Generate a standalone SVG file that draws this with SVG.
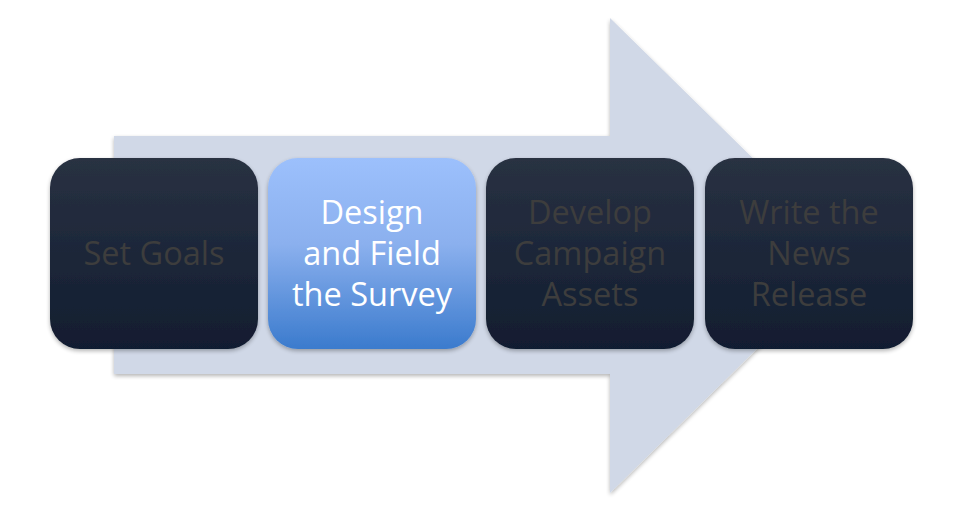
<svg xmlns="http://www.w3.org/2000/svg" width="960" height="511" viewBox="0 0 960 511">
<defs>
<linearGradient id="dark" x1="0" y1="0" x2="0" y2="1">
<stop offset="0" stop-color="#293142"/>
<stop offset="1" stop-color="#111d30"/>
</linearGradient>
<linearGradient id="blue" x1="0" y1="0" x2="0" y2="1">
<stop offset="0" stop-color="#9cc0fc"/>
<stop offset="0.45" stop-color="#8bb0ee"/>
<stop offset="1" stop-color="#3b7bcd"/>
</linearGradient>
<filter id="sh" x="-10%" y="-10%" width="120%" height="125%">
<feGaussianBlur in="SourceAlpha" stdDeviation="2"/>
<feOffset dx="0" dy="2" result="b"/>
<feComponentTransfer><feFuncA type="linear" slope="0.3"/></feComponentTransfer>
<feMerge><feMergeNode/><feMergeNode in="SourceGraphic"/></feMerge>
</filter>
</defs>
<style>
.box{stroke:none;filter:url(#sh)}
.t{font-family:"Open Sans","Noto Sans",sans-serif;font-size:32.5px;text-anchor:middle}
.dk{fill:#3d3d3d}
.wt{fill:#ffffff}
</style>
<rect width="960" height="511" fill="#ffffff"/>
<g id="arrow">
<path d="M114,136 H610 V18 L852,255.5 L610,493 V374 H114 Z" fill="#d0d8e7" filter="url(#sh)"/>
</g>
<g id="connectors"></g>
<g id="n1">
<rect class="box" x="50" y="158" width="208" height="191" rx="30" fill="url(#dark)"/>
<text class="t dk" x="154" y="265">Set Goals</text>
</g>
<g id="n2">
<rect class="box" x="268" y="158" width="208" height="191" rx="30" fill="url(#blue)"/>
<text class="t wt" x="372" y="224">Design</text>
<text class="t wt" x="372" y="265">and Field</text>
<text class="t wt" x="372" y="306">the Survey</text>
</g>
<g id="n3">
<rect class="box" x="486" y="158" width="208" height="191" rx="30" fill="url(#dark)"/>
<text class="t dk" x="590" y="224">Develop</text>
<text class="t dk" x="590" y="265">Campaign</text>
<text class="t dk" x="590" y="306">Assets</text>
</g>
<g id="n4">
<rect class="box" x="705" y="158" width="208" height="191" rx="30" fill="url(#dark)"/>
<text class="t dk" x="809" y="224">Write the</text>
<text class="t dk" x="809" y="265">News</text>
<text class="t dk" x="809" y="306">Release</text>
</g>
</svg>
